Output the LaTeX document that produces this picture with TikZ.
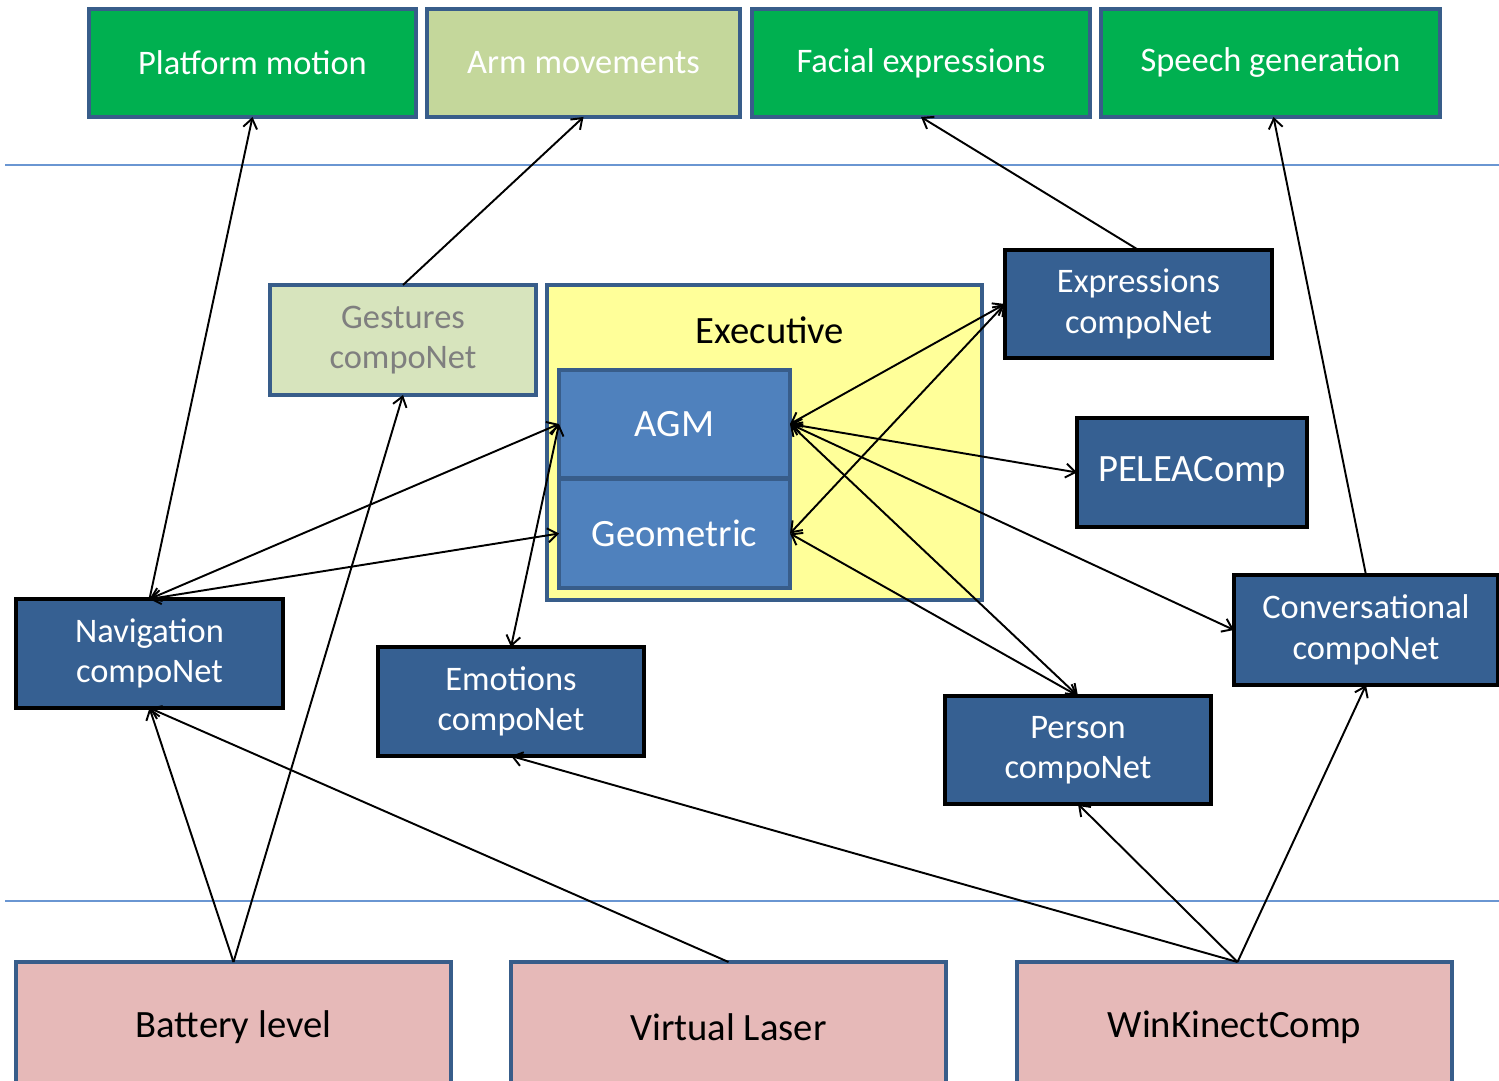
\documentclass[tikz,border=0pt]{standalone}
\usepackage{fontspec}
\setmainfont{Carlito}
\usetikzlibrary{arrows.meta}
\definecolor{outgreen}{HTML}{00B050}
\definecolor{armfill}{HTML}{C4D79B}
\definecolor{gestfill}{HTML}{D7E4BD}
\definecolor{gesttext}{HTML}{7F7F7F}
\definecolor{compfill}{HTML}{366092}
\definecolor{agmfill}{HTML}{4F81BD}
\definecolor{agmline}{HTML}{385D8A}
\definecolor{execfill}{HTML}{FFFF99}
\definecolor{sensfill}{HTML}{E6B9B8}
\definecolor{sepline}{HTML}{6A96D2}
\begin{document}
\begin{tikzpicture}[x=0.02cm,y=-0.02cm,
  box/.style n args={2}{rectangle, inner sep=0pt, outer sep=0pt,
    minimum width=#1*0.02cm, minimum height=#2*0.02cm, align=center,
    font=\fontsize{19.6}{23}\selectfont},
  bigtext/.style={font=\fontsize{22}{25}\selectfont},
  outbox/.style={draw=agmline, line width=2pt, fill=outgreen, text=white},
  armbox/.style={draw=agmline, line width=2pt, fill=armfill, text=white},
  gestbox/.style={draw=agmline, line width=2pt, fill=gestfill, text=gesttext},
  compbox/.style={draw=black, line width=2.2pt, fill=compfill, text=white},
  agmbox/.style={draw=agmline, line width=2pt, fill=agmfill, text=white, bigtext},
  execbox/.style={draw=agmline, line width=2pt, fill=execfill},
  sensbox/.style={draw=agmline, line width=2pt, fill=sensfill, text=black, bigtext},
  link/.style={draw=black, line width=1.1pt, -{Straight Barb[length=5.5pt,width=8pt]}},
  duplex/.style={draw=black, line width=1.1pt,
    {Straight Barb[length=5.5pt,width=8pt]}-{Straight Barb[length=5.5pt,width=8pt]}},
  separator/.style={draw=sepline, line width=1.1pt}]
\useasboundingbox (0,0) rectangle (1499,1081);

% layer separators
\coordinate (sepA1) at (5,165);
\coordinate (sepA2) at (1499,165);
\coordinate (sepB1) at (5,901);
\coordinate (sepB2) at (1499,901);
\draw[separator] (sepA1) -- (sepA2);
\draw[separator] (sepB1) -- (sepB2);

% output layer
\node[box={327}{108}, outbox] (plat) at (252.5,63) {Platform motion};
\node[box={313}{108}, armbox] (arm) at (583.5,63) {Arm movements};
\node[box={338}{108}, outbox] (face) at (921,63) {Facial expressions};
\node[box={339}{108}, outbox] (speech) at (1270.5,63) {Speech generation};

% executive
\node[box={435}{315}, execbox] (exec) at (764.5,442.5) {};
\node[bigtext, inner sep=0pt] (execlabel) at (770,330) {Executive};
\node[box={231}{108}, agmbox] (agm) at (674.5,424) {AGM};
\node[box={231}{109}, agmbox] (geo) at (674.5,533.5) {Geometric};

% components
\node[box={266}{110}, gestbox] (gest) at (403,340) {Gestures\\compoNet};
\node[box={267}{108}, compbox] (expr) at (1138.5,304) {Expressions\\compoNet};
\node[box={230}{109}, compbox, bigtext] (pelea) at (1192,472.5) {PELEAComp};
\node[box={267}{109}, compbox] (nav) at (149.5,653.5) {Navigation\\compoNet};
\node[box={266}{109}, compbox] (emo) at (511,701.5) {Emotions\\compoNet};
\node[box={266}{108}, compbox] (person) at (1078,750) {Person\\compoNet};
\node[box={264}{110}, compbox] (conv) at (1366,630) {Conversational\\compoNet};

% sensor layer
\node[box={435}{130}, sensbox] (batt) at (233.5,1027) {Battery level};
\node[box={435}{130}, sensbox] (laser) at (728.5,1027) {Virtual Laser};
\node[box={435}{130}, sensbox] (kinect) at (1234.5,1027) {WinKinectComp};

% links to the output layer
\draw[link] (nav.north) -- (plat.south);
\draw[link] (gest.north) -- (arm.south);
\draw[link] (expr.north) -- (face.south);
\draw[link] (conv.north) -- ([xshift=3*0.02cm]speech.south);

% executive links
\draw[duplex] (nav.north) -- (agm.west);
\draw[duplex] (nav.north) -- (geo.west);
\draw[duplex] (emo.north) -- (agm.west);
\draw[duplex] (agm.east) -- (expr.west);
\draw[duplex] (geo.east) -- (expr.west);
\draw[duplex] (agm.east) -- (pelea.west);
\draw[duplex] (agm.east) -- (conv.west);
\draw[duplex] (agm.east) -- (person.north);
\draw[duplex] (geo.east) -- (person.north);

% sensor links
\draw[link] (batt.north) -- (nav.south);
\draw[link] (batt.north) -- (gest.south);
\draw[link] (laser.north) -- (nav.south);
\draw[link] ([xshift=3*0.02cm]kinect.north) -- (emo.south);
\draw[link] ([xshift=3*0.02cm]kinect.north) -- (person.south);
\draw[link] ([xshift=3*0.02cm]kinect.north) -- (conv.south);
\end{tikzpicture}
\end{document}
